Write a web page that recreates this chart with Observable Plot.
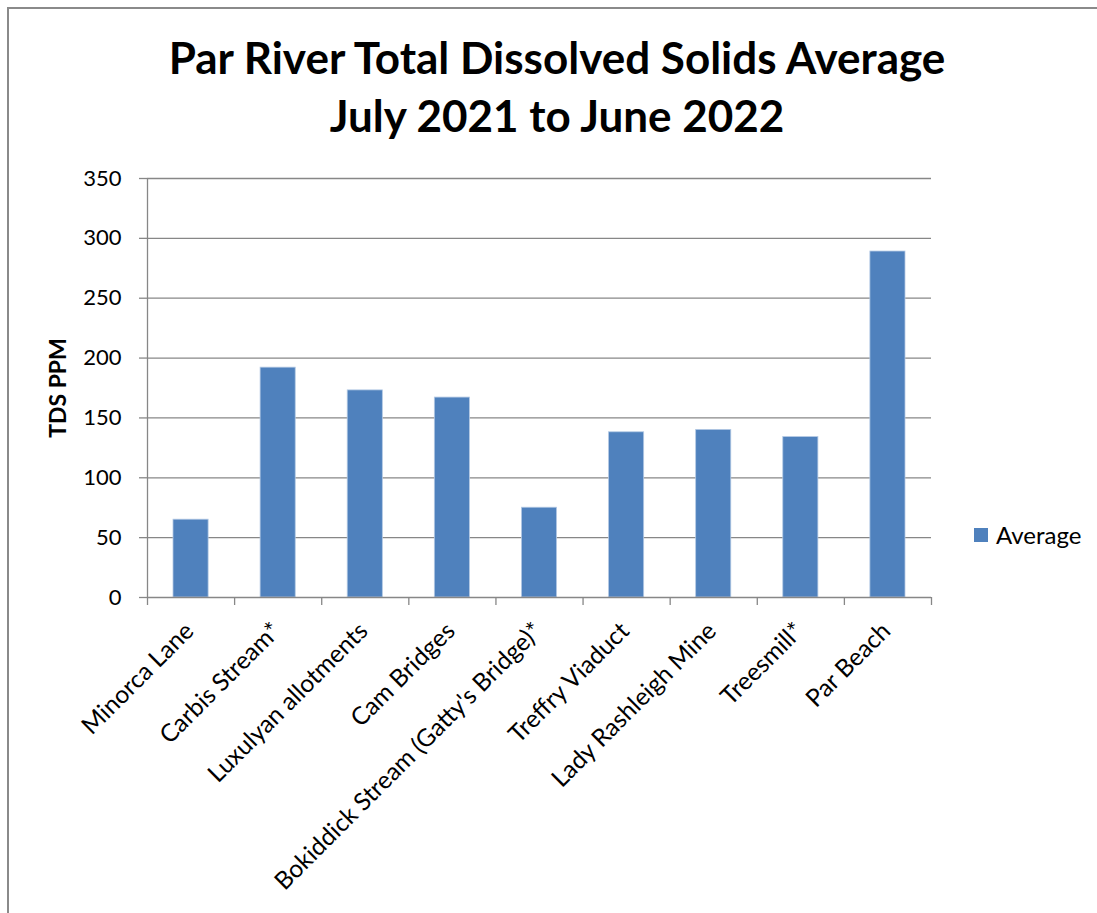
<!DOCTYPE html>
<html>
<head>
<meta charset="utf-8">
<script src="https://cdn.jsdelivr.net/npm/d3@7"></script>
<script src="https://cdn.jsdelivr.net/npm/@observablehq/plot@0.6"></script>
<style>
  html, body { margin: 0; padding: 0; background: #fff; }
  #chart { position: relative; width: 1097px; height: 913px; overflow: hidden; font-family: Lato, "Open Sans", sans-serif; }
  #frame { position: absolute; left: 7px; top: 7px; width: 1200px; height: 1000px;
           border-left: 2px solid #8a8a8a; border-top: 2px solid #8a8a8a; }
  #title { position: absolute; left: 0; top: 28px; width: 1114px; text-align: center;
           font-weight: 700; font-size: 44px; line-height: 58px; color: #000; }
  #plot { position: absolute; left: 0; top: 150px; }
  #legend { position: absolute; left: 974px; top: 518px; }
  #legend svg { margin-right: 8px !important; }
</style>
</head>
<body>
<div id="chart">
  <div id="frame"></div>
  <div id="title"></div>
  <div id="plot"></div>
  <div id="legend"></div>
</div>
<script>
// Monitoring sites along the Par River, in downstream order
const sites = [
  "Minorca Lane",
  "Carbis Stream*",
  "Luxulyan allotments",
  "Cam Bridges",
  "Bokiddick Stream (Gatty's Bridge)*",
  "Treffry Viaduct",
  "Lady Rashleigh Mine",
  "Treesmill*",
  "Par Beach"
];

// Average total dissolved solids (ppm), July 2021 – June 2022
const averages = [65, 192, 173, 167, 75, 138, 140, 134, 289];

const yTicks = [0, 50, 100, 150, 200, 250, 300, 350];
const seriesName = "Average";
const titleLines = ["Par River Total Dissolved Solids Average", "July 2021 to June 2022"];
const yLabel = "TDS PPM";

const barColor = "#4f81bd";
const gridColor = "#878787";
const font = "Lato, 'Open Sans', sans-serif";

document.getElementById("title").innerHTML = titleLines.map(t => `<div>${t}</div>`).join("");

const rows = sites.map((site, i) => ({site, index: i, value: averages[i]}));
const boundaries = d3.range(sites.length + 1);

const chart = Plot.plot({
  width: 1097,
  height: 763,
  marginLeft: 147,
  marginRight: 166,
  marginTop: 28,
  marginBottom: 316,
  style: {fontFamily: font, background: "transparent", overflow: "visible"},
  x: {domain: [0, sites.length], axis: null},
  y: {domain: [0, d3.max(yTicks)], axis: null},
  marks: [
    // horizontal gridlines
    Plot.ruleY(yTicks.filter(t => t > 0), {stroke: gridColor, strokeWidth: 1.3}),
    // bars, one per site, centred in each category slot
    Plot.rectY(rows, {
      x1: "index",
      x2: d => d.index + 1,
      y: "value",
      fill: barColor,
      stroke: "#b3c9e4",
      strokeWidth: 0.8,
      insetLeft: 26,
      insetRight: 26
    }),
    // baseline
    Plot.ruleY([0], {stroke: gridColor, strokeWidth: 1.3}),
    // vertical value axis line
    Plot.ruleX([0], {y1: d3.max(yTicks), y2: 0, stroke: gridColor, strokeWidth: 1.3, insetBottom: -8}),
    // category boundary ticks
    Plot.ruleX(boundaries.slice(1), {y1: 0, y2: 0, stroke: gridColor, strokeWidth: 1.3, insetBottom: -8}),
    // value axis ticks and labels
    Plot.ruleY(yTicks, {x1: 0, x2: 0, stroke: gridColor, strokeWidth: 1.3, insetLeft: -8}),
    Plot.axisY({ticks: yTicks, tickSize: 0, tickPadding: 26, fontSize: 22, fill: "#000", label: null}),
    Plot.text([yLabel], {
      frameAnchor: "left", textAnchor: "middle", dx: -89, rotate: -90,
      fontSize: 23, fontWeight: "bold", fill: "#000"
    }),
    // slanted site names
    Plot.text(rows, {
      x: d => d.index + 0.5,
      frameAnchor: "bottom",
      text: "site",
      rotate: -45,
      textAnchor: "end",
      dx: 4,
      dy: 35,
      fontSize: 24.5,
      fill: "#000"
    })
  ]
});
document.getElementById("plot").appendChild(chart);

const legend = Plot.legend({
  color: {domain: [seriesName], range: [barColor]},
  swatchSize: 14,
  style: {fontSize: "24px", fontFamily: font, color: "#000"}
});
document.getElementById("legend").appendChild(legend);
</script>
</body>
</html>
